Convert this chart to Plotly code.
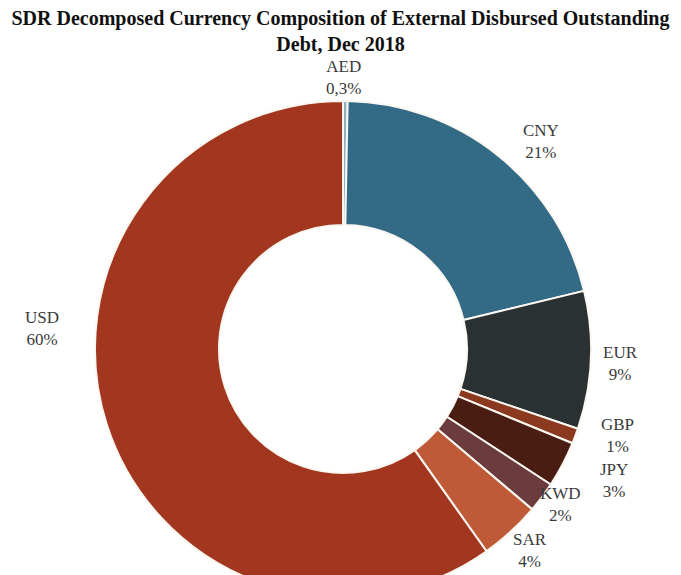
import plotly.graph_objects as go

# Currency shares of external disbursed outstanding debt (%), clockwise from 12 o'clock
currencies = ["AED", "CNY", "EUR", "GBP", "JPY", "KWD", "SAR", "USD"]
shares = [0.3, 21, 9, 1, 3, 2, 4, 60]
slice_colors = ["#90AFC5", "#336B87", "#2A3132", "#8C3A1F",
                "#4A1D13", "#6B3B3D", "#BE5A37", "#A3361F"]

# Percent labels with a decimal comma
share_text = [f"{v:g}%".replace(".", ",") for v in shares]

# Figure geometry (pixels)
W, H = 681, 600
ML, MR, MT, MB = 95, 90, 101, 3
PW, PH = W - ML - MR, H - MT - MB

# Data-label anchor points (pixel centres), placed beside the ring
label_px = {
    "AED": (343, 77), "CNY": (541, 141), "EUR": (620, 363), "GBP": (617, 435),
    "JPY": (614, 480), "KWD": (560, 504), "SAR": (530, 550), "USD": (42, 328),
}

fig = go.Figure(
    go.Pie(
        labels=currencies,
        values=shares,
        text=share_text,
        textinfo="none",
        marker=dict(colors=slice_colors, line=dict(color="#fbf8f2", width=2)),
        hole=0.5,
        sort=False,
        direction="clockwise",
        rotation=0,
        showlegend=False,
        hoverinfo="label+text",
    )
)

for name, txt in zip(currencies, share_text):
    px, py = label_px[name]
    fig.add_annotation(
        x=(px - ML) / PW,
        y=1 - (py - MT) / PH,
        xref="paper",
        yref="paper",
        text=f"{name}<br>{txt}",
        showarrow=False,
        xanchor="center",
        yanchor="middle",
        font=dict(family="Liberation Serif", size=17, color="#3a3a3a"),
    )

fig.update_layout(
    width=W,
    height=H,
    margin=dict(l=ML, r=MR, t=MT, b=MB),
    paper_bgcolor="white",
    plot_bgcolor="white",
    title=dict(
        text="<b>SDR Decomposed Currency Composition of External Disbursed Outstanding<br>Debt, Dec 2018</b>",
        x=0.5,
        xanchor="center",
        y=0.959,
        yanchor="top",
        font=dict(family="Liberation Serif", size=20, color="#111111"),
    ),
)

fig.write_html("out.html")
